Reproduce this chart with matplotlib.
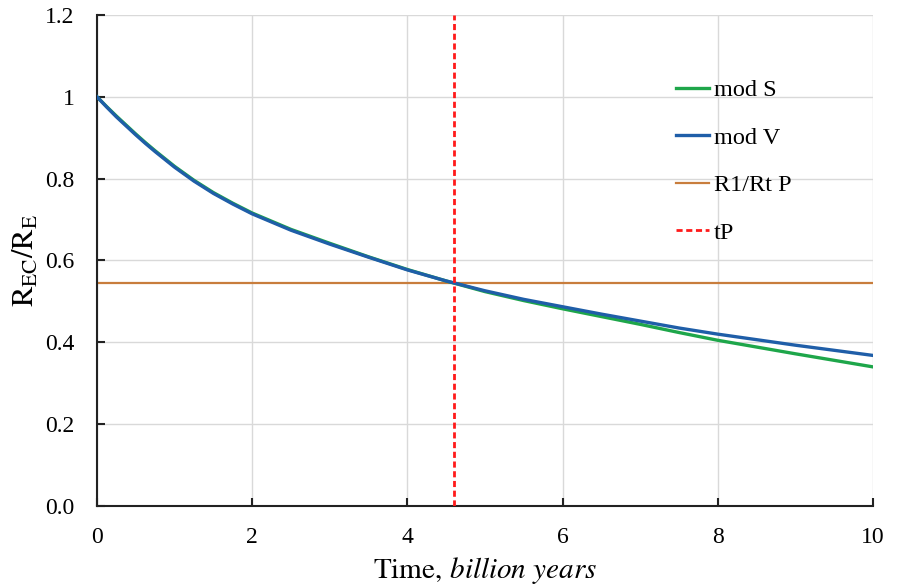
import matplotlib
matplotlib.use("Agg")
import matplotlib.pyplot as plt
import numpy as np

# Data
t = [0, 0.125, 0.25, 0.375, 0.5, 0.625, 0.75, 0.875, 1, 1.25, 1.5, 1.75, 2,
     2.5, 3, 3.5, 4, 4.5, 5, 5.5, 6, 6.5, 7, 7.5, 8, 9, 10]
mod_S = [1.0, 0.976, 0.953, 0.931, 0.909, 0.888, 0.868, 0.849, 0.830, 0.796,
         0.766, 0.740, 0.716, 0.676, 0.642, 0.609, 0.578, 0.550, 0.524, 0.502,
         0.482, 0.463, 0.444, 0.424, 0.405, 0.372, 0.340]
mod_V = [1.0, 0.975, 0.951, 0.929, 0.907, 0.886, 0.866, 0.847, 0.828, 0.794,
         0.764, 0.738, 0.714, 0.674, 0.640, 0.608, 0.577, 0.550, 0.526, 0.505,
         0.487, 0.469, 0.452, 0.435, 0.420, 0.393, 0.368]
r1_rt_P = 0.545
tP = 4.6
xticks = [0, 2, 4, 6, 8, 10]
yticks = [0.0, 0.2, 0.4, 0.6, 0.8, 1.0, 1.2]
ytick_labels = ["0.0", "0.2", "0.4", "0.6", "0.8", "1", "1.2"]

plt.rcParams['font.family'] = ['Liberation Serif', 'DejaVu Serif']
plt.rcParams['mathtext.fontset'] = 'stix'

fig = plt.figure(figsize=(8.98, 5.88), dpi=100)
ax = fig.add_axes([0.108, 0.1395, 0.864, 0.835])

ax.plot(t, mod_S, color='#1ea64a', lw=2.4, label='mod S', zorder=3,
        solid_joinstyle='round')
ax.plot(t, mod_V, color='#1f5ea8', lw=2.4, label='mod V', zorder=4,
        solid_joinstyle='round')
ax.axhline(r1_rt_P, color='#c87d3c', lw=1.6, label='R1/Rt P', zorder=2)
ax.axvline(tP, color='#ff1a1a', lw=2.0, ls=(0, (2.2, 1.3)), label='tP', zorder=5)

ax.set_xlim(0, 10)
ax.set_ylim(0, 1.2)
ax.set_xticks(xticks)
ax.set_yticks(yticks)
ax.set_yticklabels(ytick_labels)
ax.grid(True, color='#d9d9d9', lw=1.0, zorder=0)
ax.set_axisbelow(True)
for s in ['top', 'right']:
    ax.spines[s].set_visible(False)
for s in ['left', 'bottom']:
    ax.spines[s].set_linewidth(1.5)
    ax.spines[s].set_color('#222222')
ax.tick_params(direction='in', length=6, width=1.5, labelsize=17, color='#222222')
ax.tick_params(axis='y', pad=16)
ax.tick_params(axis='x', pad=15)

ax.set_xlabel(r'$\mathrm{Time,\,}\mathit{billion\ years}$', fontsize=21, labelpad=5)
ax.set_ylabel(r'$\mathrm{R_{EC}/R_{E}}$', fontsize=22, labelpad=3)

leg = ax.legend(loc='upper left', bbox_to_anchor=(0.718, 0.914), frameon=False,
                fontsize=17.5, handlelength=1.35, handletextpad=0.2, labelspacing=1.05)

fig.savefig('out.png', dpi=100)
